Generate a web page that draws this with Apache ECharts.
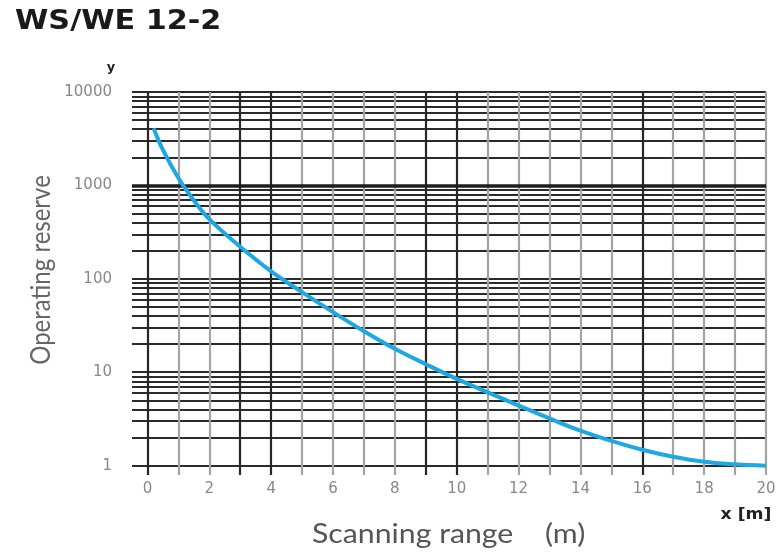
<!DOCTYPE html>
<html>
<head>
<meta charset="utf-8">
<script src="https://cdn.jsdelivr.net/npm/echarts@6/dist/echarts.min.js"></script>
<style>html,body{margin:0;padding:0;background:#fff}#c{width:781px;height:552px}</style>
</head>
<body>
<div id="c"></div>
<script>
// Data
const distance = [0.2, 0.5, 1, 1.5, 2, 3, 4, 5, 6, 7, 8, 9, 10, 11, 12, 13, 14, 15, 16, 17, 18, 19, 20];
const reserve  = [4100, 2400, 1200, 690, 435, 220, 120, 72, 44, 27.5, 17.8, 12.2, 8.5, 6.1, 4.4, 3.2, 2.37, 1.84, 1.48, 1.245, 1.1, 1.035, 1.0];

// Tick / grid values
const xTickValues = [0,1,2,3,4,5,6,7,8,9,10,11,12,13,14,15,16,17,18,19,20];
const xLabelValues = [0,2,4,6,8,10,12,14,16,18,20];
const darkVerticals = [0,3,4,9,10,16];
const yTickValues = [1,2,3,4,5,6,7,8,9,10,20,30,40,50,60,70,80,90,100,200,300,400,500,600,700,800,900,1000,2000,3000,4000,5000,6000,7000,8000,9000,10000];
const yLabelValues = [1,10,100,1000,10000];
const heavyLine = 1000;

const chart = echarts.init(document.getElementById('c'), null, {renderer: 'canvas'});
const vColors = xTickValues.map(v => darkVerticals.indexOf(v) >= 0 ? '#262626' : '#a3a3a3');

chart.setOption({
  animation: false,
  backgroundColor: '#fff',
  grid: {left: 132, right: 15, top: 92, bottom: 77},
  xAxis: {
    type: 'value', min: -0.5, max: 20,
    axisLine: {show: false},
    axisTick: {show: false, customValues: xTickValues},
    axisLabel: {customValues: xLabelValues, color: '#888', fontSize: 15, fontFamily: 'DejaVu Sans', margin: 7},
    splitLine: {show: true, lineStyle: {color: vColors, width: 2.2}}
  },
  yAxis: {
    type: 'value', min: -0.1, max: 4,
    axisLine: {show: false},
    axisTick: {show: false, customValues: yTickValues.map(v => Math.log10(v))},
    axisLabel: {
      customValues: yLabelValues.map(v => Math.log10(v)),
      formatter: v => String(Math.round(Math.pow(10, v))),
      color: '#888', fontSize: 15, fontFamily: 'DejaVu Sans', margin: 20
    },
    splitLine: {show: true, lineStyle: {color: '#2a2a2a', width: 1.8}}
  },
  series: [{
    type: 'line',
    data: distance.map((d, i) => [d, Math.log10(reserve[i])]),
    smooth: 0.4,
    showSymbol: false,
    lineStyle: {color: '#1ea8e2', width: 4},
    markLine: {
      silent: true, symbol: 'none', label: {show: false},
      lineStyle: {color: '#1e1e1e', width: 3.6, type: 'solid'},
      data: [{yAxis: Math.log10(heavyLine)}]
    },
    z: 5
  }],
  graphic: [
    {type: 'text', x: 15, y: 22, scaleX: 1.12, style: {text: 'WS/WE 12-2', fontSize: 27, fontWeight: 'bold', fontFamily: 'DejaVu Sans', fill: '#1a1a1a', align: 'left', verticalAlign: 'middle'}},
    {type: 'text', x: 111, y: 68, style: {text: 'y', fontSize: 13, fontWeight: 'bold', fontFamily: 'DejaVu Sans', fill: '#222', align: 'center', verticalAlign: 'middle'}},
    {type: 'text', x: 41, y: 270, rotation: Math.PI / 2, scaleY: 1.12, style: {text: 'Operating reserve', fontSize: 24, fontFamily: 'Lato', fill: '#666', align: 'center', verticalAlign: 'middle'}},
    {type: 'text', x: 312, y: 534, scaleX: 1.12, style: {text: 'Scanning range', fontSize: 27, fontFamily: 'Lato', fill: '#555', align: 'left', verticalAlign: 'middle'}},
    {type: 'text', x: 545, y: 534, scaleX: 1.12, style: {text: '(m)', fontSize: 27, fontFamily: 'Lato', fill: '#555', align: 'left', verticalAlign: 'middle'}},
    {type: 'text', x: 746, y: 515, scaleX: 1.15, style: {text: 'x [m]', fontSize: 15, fontWeight: 'bold', fontFamily: 'DejaVu Sans', fill: '#222', align: 'center', verticalAlign: 'middle'}}
  ]
});
</script>
</body>
</html>
